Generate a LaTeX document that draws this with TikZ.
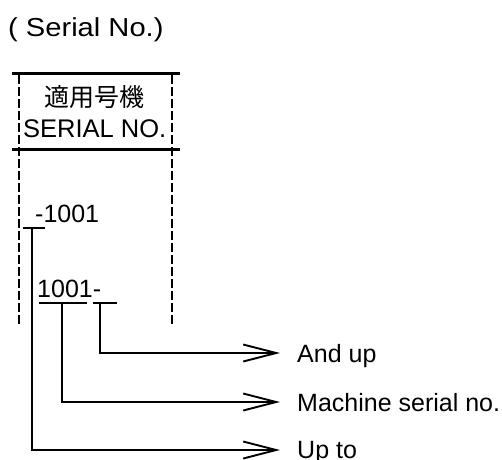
\documentclass[tikz,border=0pt]{standalone}
\usepackage{fontspec}
\usepackage{graphicx}
\setmainfont{Liberation Sans}
\newfontfamily\cjkfont{Noto Sans CJK JP}
\usetikzlibrary{arrows.meta}
\begin{document}
\begin{tikzpicture}[x=1pt,y=-1pt,
  txt/.style={inner sep=0pt, anchor=base west, font=\fontsize{25}{30}\selectfont},
  conn/.style={line width=1.9pt, -{Straight Barb[length=33pt,width=17pt,line width=1.9pt]}},
  barline/.style={line width=1.9pt},
  rulethick/.style={line width=3pt},
  dashrule/.style={line width=1.3pt, dash pattern=on 9pt off 3pt}]
\useasboundingbox (0,0) rectangle (502,459);
% title
\node[txt, font=\fontsize{26}{30}\selectfont] (title) at (8,36) {\scalebox{1.12}[1]{( Serial No.)}};
% table frame
\draw[rulethick] (12,73) -- (180,73);
\draw[rulethick] (12,149) -- (180,149);
\draw[dashrule] (19,75) -- (19,326);
\draw[dashrule] (172,75) -- (172,326);
\node[inner sep=0pt, font=\cjkfont\fontsize{25}{30}\selectfont] (hdj) at (94,97) {適用号機};
\node[txt, font=\fontsize{25.5}{30}\selectfont] (hde) at (23,137) {SERIAL NO.};
% serial entries
\node[txt] (s1) at (35,222) {-1001};
\node[txt] (s2) at (37,297) {1001-};
\draw[barline] (23,228) -- (45,228);
\draw[barline] (39,303) -- (87,303);
\draw[barline] (93,303) -- (117,303);
\coordinate (c1) at (32,228);
\coordinate (c2) at (62,303);
\coordinate (c3) at (100,303);
% labels
\node[txt] (l3) at (297,362) {And up};
\node[txt] (l2) at (297,411) {Machine serial no.};
\node[txt] (l1) at (297,458) {Up to};
\coordinate (a3) at (280,353);
\coordinate (a2) at (280,402);
\coordinate (a1) at (280,450);
\draw[conn] (c3) |- (a3);
\draw[conn] (c2) |- (a2);
\draw[conn] (c1) |- (a1);
\end{tikzpicture}
\end{document}
